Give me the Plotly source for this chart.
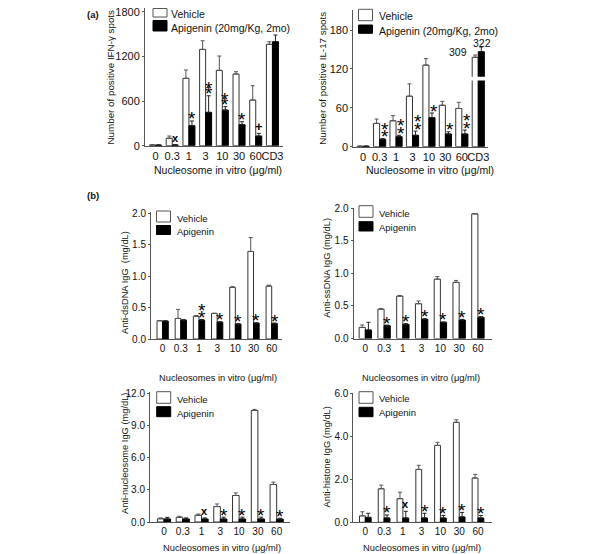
import plotly.graph_objects as go

# ---------------- data ----------------
CATS_A = ["0", "0.3", "1", "3", "10", "30", "60", "CD3"]
CATS_B = ["0", "0.3", "1", "3", "10", "30", "60"]

IFN_VEH = [10, 100, 905, 1294, 1012, 963, 614, 1362]
IFN_VEH_ERR = [5, 30, 112, 116, 193, 31, 192, 35]
IFN_API = [8, 10, 269, 448, 479, 282, 130, 1397]
IFN_API_ERR = [3, 3, 63, 223, 45, 40, 36, 90]
IFN_SIG = ["", "x", "*", "**", "**", "*", "+", ""]

# CD3 column drawn on a broken axis (true values 309 / 322)
IL17_VEH = [0.8, 36, 40, 78, 126, 64, 59, 138]
IL17_VEH_ERR = [0, 6.7, 8, 19, 10, 6, 9.5, 3.5]
IL17_API = [0.8, 11.4, 15.4, 17.6, 45, 19.6, 19.6, 146.6]
IL17_API_ERR = [0, 1, 2.2, 6.4, 7, 3.4, 6.1, 7.4]
IL17_SIG = ["", "**", "**", "**", "*", "*", "**", ""]
IL17_CD3_LABELS = ["309", "322"]

DS_VEH = [0.289, 0.326, 0.363, 0.405, 0.82, 1.39, 0.84]
DS_VEH_ERR = [0.005, 0.144, 0.01, 0.005, 0.01, 0.22, 0.015]
DS_API = [0.284, 0.30, 0.30, 0.268, 0.237, 0.252, 0.247]
DS_API_ERR = [0.005, 0.005, 0.01, 0.005, 0.005, 0.005, 0.005]
DS_SIG = ["", "", "**", "*", "*", "*", "*"]

SS_VEH = [0.17, 0.45, 0.65, 0.533, 0.91, 0.86, 1.91]
SS_VEH_ERR = [0.037, 0.01, 0.01, 0.042, 0.04, 0.03, 0.005]
SS_API = [0.13, 0.196, 0.217, 0.294, 0.248, 0.283, 0.325]
SS_API_ERR = [0.118, 0.01, 0.01, 0.01, 0.005, 0.01, 0.01]
SS_SIG = ["", "*", "*", "*", "*", "*", "*"]

NUC_VEH = [0.3, 0.44, 0.63, 1.44, 2.47, 10.4, 3.5]
NUC_VEH_ERR = [0.08, 0.09, 0.11, 0.24, 0.24, 0.1, 0.22]
NUC_API = [0.28, 0.28, 0.28, 0.28, 0.28, 0.28, 0.27]
NUC_API_ERR = [0.15, 0.1, 0.1, 0.17, 0.17, 0.17, 0.08]
NUC_SIG = ["", "", "x", "*", "*", "*", "*"]

HIS_VEH = [0.3, 1.56, 1.1, 2.46, 3.58, 4.65, 2.06]
HIS_VEH_ERR = [0.19, 0.17, 0.3, 0.19, 0.14, 0.12, 0.17]
HIS_API = [0.23, 0.2, 0.2, 0.2, 0.2, 0.25, 0.2]
HIS_API_ERR = [0.19, 0.14, 0.31, 0.22, 0.12, 0.21, 0.12]
HIS_SIG = ["", "*", "x", "*", "*", "*", "*"]

# ---------------- layout helpers ----------------
W, H = 600, 554
OFF = 8  # page body margin in the browser
FONT = "Liberation Sans, Arial, sans-serif"
AXC = "#555"
fig = go.Figure()
annotations = []
shapes = []


def px(x):
    return (x - OFF) / W


def py(y):
    return min(1.0, 1 - (y - OFF) / H)


def add_panel(k, cats, veh, veh_err, api, api_err, sigs, xdom, xrange,
              y0px, ytoppx, ytop, tickvals, tickfmt, bw, tfont, star_gap,
              xshift=0):
    xa = "x" if k == 1 else f"x{k}"
    ya = "y" if k == 1 else f"y{k}"
    n = len(cats)
    idx = list(range(n))
    fig.add_trace(go.Bar(
        x=idx, y=veh, width=bw, offset=-bw, xaxis=xa, yaxis=ya,
        marker=dict(color="white", line=dict(color="#333", width=1)),
        error_y=dict(type="data", symmetric=False, array=veh_err,
                     arrayminus=[0] * n, color="#555", thickness=1, width=2),
        showlegend=False, hoverinfo="skip"))
    fig.add_trace(go.Bar(
        x=idx, y=api, width=bw, offset=0, xaxis=xa, yaxis=ya,
        marker=dict(color="black", line=dict(color="black", width=1)),
        error_y=dict(type="data", symmetric=False, array=api_err,
                     arrayminus=[0] * n, color="#222", thickness=1, width=2),
        showlegend=False, hoverinfo="skip"))
    xkey = "xaxis" if k == 1 else f"xaxis{k}"
    ykey = "yaxis" if k == 1 else f"yaxis{k}"
    fig.update_layout(**{
        xkey: dict(domain=[px(xdom[0]), px(xdom[1])], range=xrange,
                   anchor=ya, tickvals=idx, ticktext=cats, ticks="",
                   tickangle=0, automargin=False, ticklabeloverflow="allow",
                   showline=True, linecolor=AXC, linewidth=1,
                   showgrid=False, zeroline=False,
                   tickfont=dict(size=tfont, color="#111", family=FONT)),
        ykey: dict(domain=[py(y0px), py(ytoppx)], range=[0, ytop],
                   anchor=xa, tickvals=tickvals, tickformat=tickfmt,
                   ticks="outside", ticklen=2, tickcolor=AXC,
                   automargin=False, ticklabeloverflow="allow",
                   showline=True, linecolor=AXC, linewidth=1,
                   showgrid=False, zeroline=False,
                   tickfont=dict(size=tfont, color="#111", family=FONT)),
    })
    # significance marks
    for i, s in enumerate(sigs):
        if not s:
            continue
        top = api[i] + api_err[i]
        xc = i + bw / 2
        if s in ("*", "**"):
            marks = [("*", 2)]
            if s == "**":
                marks.append(("*", 2 + star_gap))
            for txt, ys in marks:
                annotations.append(dict(
                    x=xc, y=top, xref=xa, yref=ya, text=txt, showarrow=False,
                    yanchor="middle", xanchor="center", yshift=ys,
                    xshift=xshift,
                    font=dict(size=19, color="black", family=FONT)))
        else:
            size = 11 if s == "x" else 13
            annotations.append(dict(
                x=xc, y=top, xref=xa, yref=ya, text=f"<b>{s}</b>",
                showarrow=False, yanchor="middle", xanchor="center",
                yshift=7, xshift=xshift,
                font=dict(size=size, color="black", family=FONT)))


def legend(x0, wy, by, tx, ty_v, ty_a, label2, fsize):
    shapes.append(dict(type="rect", xref="paper", yref="paper",
                       x0=px(x0), x1=px(x0 + 14), y0=py(wy[1]), y1=py(wy[0]),
                       line=dict(color="#555", width=1), fillcolor="white"))
    shapes.append(dict(type="rect", xref="paper", yref="paper",
                       x0=px(x0), x1=px(x0 + 14), y0=py(by[1]), y1=py(by[0]),
                       line=dict(color="black", width=1), fillcolor="black"))
    for t, ty in (("Vehicle", ty_v), (label2, ty_a)):
        annotations.append(dict(x=px(tx), y=py(ty), xref="paper", yref="paper",
                                text=t, showarrow=False, xanchor="left",
                                yanchor="middle",
                                font=dict(size=fsize, color="#111", family=FONT)))


def label(x, y, text, size, angle=0, bold=False):
    annotations.append(dict(x=px(x), y=py(y), xref="paper", yref="paper",
                            text=f"<b>{text}</b>" if bold else text,
                            showarrow=False, xanchor="center", yanchor="middle",
                            textangle=angle,
                            font=dict(size=size, color="#111", family=FONT)))


# ---------------- panels ----------------
add_panel(1, CATS_A, IFN_VEH, IFN_VEH_ERR, IFN_API, IFN_API_ERR, IFN_SIG,
          (145, 283.3), [-0.63, 7.65], 145.7, 8, 1850,
          [0, 600, 1200, 1800], "d", 0.36, 11, 5)
add_panel(2, CATS_A, IL17_VEH, IL17_VEH_ERR, IL17_API, IL17_API_ERR, IL17_SIG,
          (353.3, 488.3), [-0.6, 7.61], 146.7, 10, 211,
          [0, 60, 120, 180], "d", 0.37, 11, 7.5, xshift=2)
add_panel(3, CATS_B, DS_VEH, DS_VEH_ERR, DS_API, DS_API_ERR, DS_SIG,
          (151, 281.7), [-0.64, 6.55], 339, 212, 2.016,
          [0, 0.5, 1.0, 1.5, 2.0], ".1f", 0.31, 10, 6.7)
add_panel(4, CATS_B, SS_VEH, SS_VEH_ERR, SS_API, SS_API_ERR, SS_SIG,
          (353.5, 492), [-0.63, 6.75], 338.5, 207.5, 2.008,
          [0, 0.5, 1.0, 1.5, 2.0], ".1f", 0.33, 10, 6.7)
add_panel(5, CATS_B, NUC_VEH, NUC_VEH_ERR, NUC_API, NUC_API_ERR, NUC_SIG,
          (150, 290), [-0.745, 6.71], 522, 391.7, 12.15,
          [0, 3, 6, 9, 12], ".1f", 0.35, 10, 6.7)
add_panel(6, CATS_B, HIS_VEH, HIS_VEH_ERR, HIS_API, HIS_API_ERR, HIS_SIG,
          (353.3, 491.7), [-0.64, 6.73], 522.3, 392.7, 6.03,
          [0, 2, 4, 6], ".1f", 0.31, 10, 6.7)

# broken axis on the IL-17 CD3 column
shapes.append(dict(type="rect", xref="x2", yref="y2", x0=7 - 0.45, x1=7 + 0.45,
                   y0=102, y1=108, fillcolor="white", line=dict(width=0),
                   layer="above"))
annotations.append(dict(x=7 - 0.54, y=146.6, xref="x2", yref="y2",
                        text=IL17_CD3_LABELS[0], showarrow=False,
                        xanchor="right", yanchor="middle",
                        font=dict(size=10.5, color="#111", family=FONT)))
annotations.append(dict(x=7 + 0.21, y=160.5, xref="x2", yref="y2",
                        text=IL17_CD3_LABELS[1], showarrow=False,
                        xanchor="center", yanchor="middle",
                        font=dict(size=10.5, color="#111", family=FONT)))

# legends
legend(153, (8.5, 17), (20.5, 31), 169, 13.5, 28.3, "Apigenin (20mg/Kg, 2mo)", 10.5)
legend(358.5, (9.3, 20.7), (25, 33.3), 376.5, 16, 30.7, "Apigenin (20mg/Kg, 2mo)", 10.5)
legend(156.5, (211, 222), (225.5, 234.5), 174.5, 219, 231.7, "Apigenin", 9.5)
legend(359, (205.7, 217.3), (221.7, 231), 376.5, 214, 227.7, "Apigenin", 9.5)
legend(156.7, (391.7, 403.3), (406.7, 416.7), 174.5, 399.3, 413.3, "Apigenin", 9.5)
legend(359, (391.7, 403.3), (407.3, 416.7), 376.5, 398.7, 412.3, "Apigenin", 9.5)

# axis titles and panel letters
label(93.5, 14, "(a)", 9.5, bold=True)
label(93.5, 195, "(b)", 9.5, bold=True)
label(110, 77.5, "Number of positive IFN-γ spots", 9.8, angle=-90)
label(321.7, 78, "Number of positive IL-17 spots", 9.8, angle=-90)
label(218, 170, "Nucleosome in vitro (μg/ml)", 10.5)
label(430, 170, "Nucleosome in vitro (μg/ml)", 10.5)
label(125, 283, "Anti-dsDNA IgG  (mg/dL)", 9.3, angle=-90)
label(326.7, 268, "Anti-ssDNA IgG (mg/dL)", 9.3, angle=-90)
label(218, 378.3, "Nucleosomes in vitro (μg/ml)", 9.3)
label(420.8, 378.3, "Nucleosomes in vitro (μg/ml)", 9.3)
label(125, 454, "Anti-nucleosome IgG (mg/dL)", 9.3, angle=-90)
label(326.7, 456.7, "Anti-histone IgG (mg/dL)", 9.3, angle=-90)
label(221.7, 547.5, "Nucleosomes in vitro (μg/ml)", 9.3)
label(421.7, 547.5, "Nucleosomes in vitro (μg/ml)", 9.3)

fig.update_layout(
    width=W, height=H, margin=dict(l=0, r=0, t=0, b=0),
    paper_bgcolor="white", plot_bgcolor="white",
    barmode="overlay", showlegend=False,
    font=dict(family=FONT, color="#111"),
    annotations=annotations, shapes=shapes,
)

fig.write_html("out.html")
